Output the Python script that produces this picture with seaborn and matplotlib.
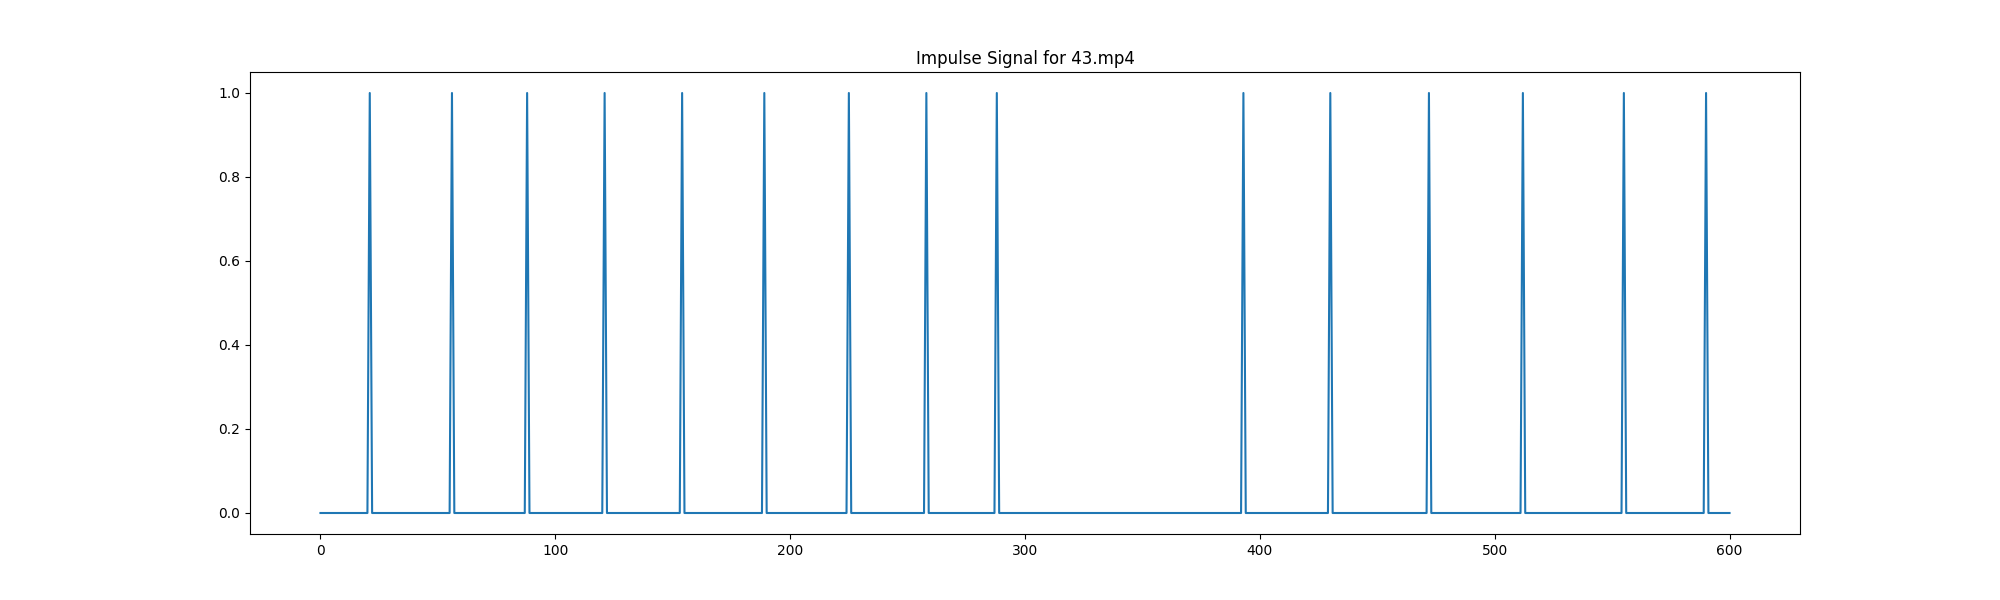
import numpy as np
import pandas as pd
import matplotlib
matplotlib.use("Agg")
import matplotlib.pyplot as plt
import seaborn as sns

VIDEO_NAME = "43.mp4"
NUM_FRAMES = 601
# frames where an impulse fires
impulse_frames = [21, 56, 88, 121, 154, 189, 225, 258, 288,
                  393, 430, 472, 512, 555, 590]

frames = np.arange(NUM_FRAMES)
signal = np.zeros(NUM_FRAMES)
signal[impulse_frames] = 1.0

df = pd.DataFrame({"frame": frames, "impulse": signal})

fig, ax = plt.subplots(figsize=(20, 6), dpi=100)
sns.lineplot(data=df, x="frame", y="impulse", ax=ax, color="#1f77b4", linewidth=1.5)
ax.set_title(f"Impulse Signal for {VIDEO_NAME}")
ax.set_xlabel("")
ax.set_ylabel("")

plt.savefig("out.png")
